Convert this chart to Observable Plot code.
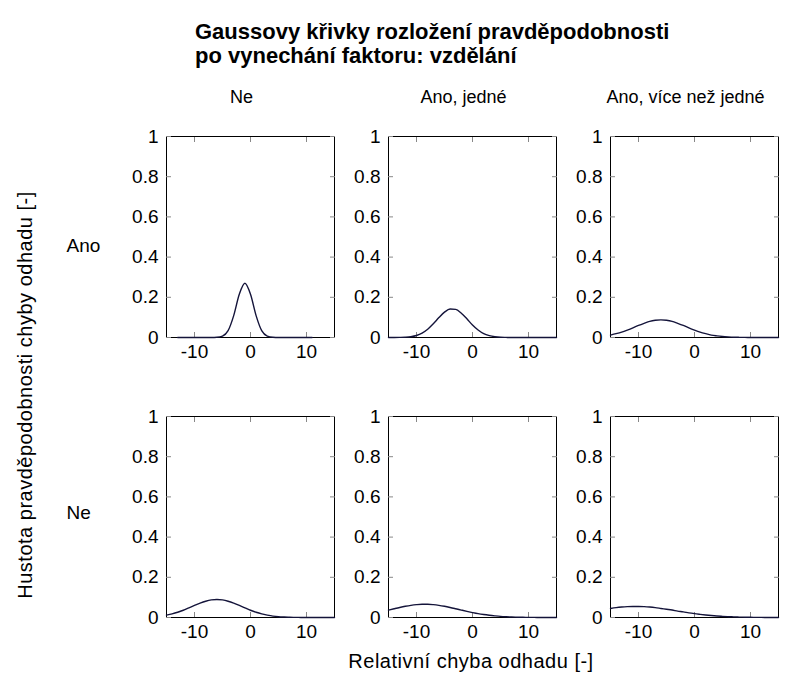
<!DOCTYPE html>
<html>
<head>
<meta charset="utf-8">
<script src="https://cdn.jsdelivr.net/npm/d3@7"></script>
<script src="https://cdn.jsdelivr.net/npm/@observablehq/plot@0.6"></script>
<style>
  html, body { margin: 0; padding: 0; background: #fff; }
  #wrap { position: relative; width: 791px; height: 675px; font-family: "Liberation Sans", Arial, sans-serif; color: #000; }
  #chart { position: absolute; left: 0; top: 0; }
  .t { position: absolute; white-space: nowrap; }
</style>
</head>
<body>
<div id="wrap">
  <div id="chart"></div>
  <div class="t" id="title" style="left:195px; top:20px; font-weight:bold; font-size:22px; line-height:24px;"></div>
  <div class="t" id="ylabel" style="left:25px; top:395px; font-size:20px; letter-spacing:0.5px; transform: translate(-50%,-50%) rotate(-90deg);"></div>
  <div class="t" id="xlabel" style="left:471px; top:661px; font-size:20px; letter-spacing:0.5px; transform: translate(-50%,-50%);"></div>
</div>
<script>
// ---- text ----
const titleLines = ["Gaussovy křivky rozložení pravděpodobnosti", "po vynechání faktoru: vzdělání"];
const xLabel = "Relativní chyba odhadu [-]";
const yLabel = "Hustota pravděpodobnosti chyby odhadu [-]";

// ---- facets ----
const colKeys = ["Ne", "Ano, jedné", "Ano, více než jedné"];
const rowKeys = ["Ano", "Ne"];

// ---- axis ticks ----
const xTicks = [-10, 0, 10];
const yTicks = [0, 0.2, 0.4, 0.6, 0.8, 1];

// ---- x grid (relative error) ----
const xGrid = [-15,-14,-13,-12,-11,-10,-9,-8,-7,-6,-5,-4,-3,-2,-1,0,1,2,3,4,5,6,7,8,9,10,11,12,13,14,15];

// ---- densities (null = not drawn) ----
const densAnoNe = [null,null,0,0,0,0,0,0,0,0.001,0.007,0.034,0.109,0.215,0.27,0.215,0.109,0.034,0.007,0.001,0,0,0,0,0,0,0,null,null,null,null];
const densAnoJedne = [0,0,0.0005,0.0015,0.004,0.010,0.022,0.041,0.068,0.099,0.126,0.1415,0.140,0.121,0.093,0.062,0.037,0.019,0.009,0.0035,0.001,0.0004,0,0,0,0,0,0,0,0,0];
const densAnoVice = [0.012,0.019,0.027,0.037,0.048,0.060,0.0705,0.080,0.0855,0.0876,0.0855,0.080,0.0705,0.060,0.048,0.037,0.027,0.019,0.012,0.008,0.005,0.003,0.0015,0.0008,0.0004,0.0002,0.0001,0,0,0,0];
const densNeNe = [0.012,0.018,0.026,0.036,0.048,0.060,0.0715,0.081,0.0875,0.0897,0.0875,0.081,0.0715,0.060,0.048,0.036,0.026,0.018,0.012,0.007,0.004,0.0024,0.0013,0.0006,0.0003,0.0001,0,0,0,0,0];
const densNeJedne = [0.037,0.0436,0.050,0.0558,0.0606,0.064,0.0658,0.0658,0.064,0.0606,0.0558,0.050,0.0436,0.037,0.0305,0.0245,0.019,0.0146,0.011,0.008,0.0054,0.0037,0.0025,0.0016,0.001,0.0006,0.0004,0.0002,0.0001,0.0001,0];
const densNeVice = [0.045,0.049,0.052,0.054,0.055,0.055,0.054,0.052,0.049,0.045,0.041,0.037,0.032,0.028,0.023,0.019,0.0156,0.0124,0.0097,0.0074,0.0056,0.0041,0.003,0.0021,0.0015,0.001,0.0007,0.0004,0.0003,0.0002,0.0001];

const series = [
  {row: "Ano", col: "Ne", dens: densAnoNe},
  {row: "Ano", col: "Ano, jedné", dens: densAnoJedne},
  {row: "Ano", col: "Ano, více než jedné", dens: densAnoVice},
  {row: "Ne", col: "Ne", dens: densNeNe},
  {row: "Ne", col: "Ano, jedné", dens: densNeJedne},
  {row: "Ne", col: "Ano, více než jedné", dens: densNeVice}
];
const data = series.flatMap(s => xGrid.map((x, i) => ({row: s.row, col: s.col, x, y: s.dens[i]}))).filter(d => d.y != null);

document.getElementById("title").innerHTML = titleLines.join("<br>");
document.getElementById("xlabel").textContent = xLabel;
document.getElementById("ylabel").textContent = yLabel;

const fmt = d => String(d);
const blank = () => "";

const chart = Plot.plot({
  width: 791,
  height: 675,
  marginLeft: 165,
  marginRight: 13,
  marginTop: 135,
  marginBottom: 57,
  style: {fontFamily: "Liberation Sans, Arial, sans-serif", fontSize: "19px", color: "#000", background: "transparent", overflow: "visible"},
  fx: {domain: colKeys, paddingInner: 0.245, paddingOuter: 0},
  fy: {domain: rowKeys, paddingInner: 0.281, paddingOuter: 0},
  x: {domain: [-15, 15]},
  y: {domain: [0, 1]},
  marks: [
    Plot.frame({stroke: "#000", strokeWidth: 1}),
    Plot.axisX({anchor: "bottom", ticks: xTicks, tickSize: -5, tickPadding: 12, tickFormat: fmt, facetAnchor: null, label: null, stroke: "#888"}),
    Plot.axisX({anchor: "top", ticks: xTicks, tickSize: -5, tickFormat: blank, facetAnchor: null, label: null, stroke: "#888"}),
    Plot.axisY({anchor: "left", ticks: yTicks, tickSize: -5, tickPadding: 13, tickFormat: fmt, facetAnchor: null, label: null, stroke: "#888"}),
    Plot.axisY({anchor: "right", ticks: yTicks, tickSize: -5, tickFormat: blank, facetAnchor: null, label: null, stroke: "#888"}),
    Plot.axisFx({anchor: "top", tickSize: 0, tickPadding: 34, dx: -9, fontSize: 18, label: null}),
    Plot.axisFy({anchor: "left", ticks: ["Ano"], tickSize: 0, tickPadding: 100, textAnchor: "start", dy: 9, label: null}),
    Plot.axisFy({anchor: "left", ticks: ["Ne"], tickSize: 0, tickPadding: 100, textAnchor: "start", dy: -4, label: null}),
    Plot.line(data, {x: "x", y: "y", fx: "col", fy: "row", stroke: "#14143a", strokeWidth: 1.4, curve: "monotone-x"})
  ]
});
document.getElementById("chart").appendChild(chart);
</script>
</body>
</html>
